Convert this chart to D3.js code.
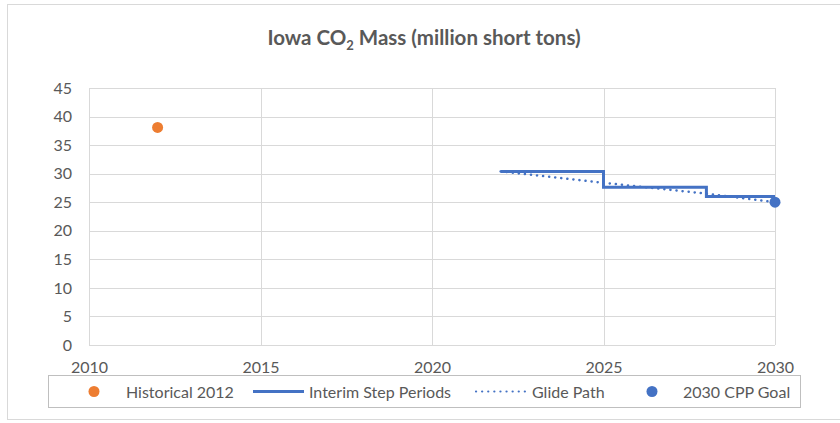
<!DOCTYPE html>
<html>
<head>
<meta charset="utf-8">
<script src="https://cdn.jsdelivr.net/npm/d3@7"></script>
<style>
  body { margin: 0; background: #fff; }
  text { font-family: Lato, "Open Sans", sans-serif; fill: #595959; }
</style>
</head>
<body>
<div id="chart"></div>
<script>
/* values */
const historical = [{ year: 2012, value: 38.1 }];
const interimSteps = [
  { year: 2022, value: 30.4 },
  { year: 2025, value: 27.6 },
  { year: 2028, value: 26.0 },
  { year: 2030, value: 26.0 }
];
const glidePath = [
  { year: 2022, value: 30.4 },
  { year: 2025, value: 28.4 },
  { year: 2028, value: 26.5 },
  { year: 2030, value: 25.0 }
];
const cppGoal = [{ year: 2030, value: 25.0 }];
const xTicks = [2010, 2015, 2020, 2025, 2030];
const yTicks = [0, 5, 10, 15, 20, 25, 30, 35, 40, 45];
const legendLabels = ["Historical 2012", "Interim Step Periods", "Glide Path", "2030 CPP Goal"];

document.addEventListener("DOMContentLoaded", function(){

  const chartWidth = 840;
  const chartHeight = 423;
  const orange = "#ED7D31";
  const blue = "#4472C4";
  const grid = "#d9d9d9";

  const svg = d3.select("#chart")
    .append("svg")
    .attr("width", chartWidth)
    .attr("height", chartHeight);

  /* outer chart border (right edge runs off the picture) */
  svg.append("rect")
    .attr("x", 7.5).attr("y", 4.5)
    .attr("width", 840).attr("height", 415)
    .attr("fill", "#fff")
    .attr("stroke", "#d9d9d9");

  const x = d3.scaleLinear().domain([2010, 2030]).range([89, 775]);
  const y = d3.scaleLinear().domain([0, 45]).range([345, 88]);

  /* gridlines */
  svg.append("g")
    .selectAll("line.h")
    .data(yTicks)
    .join("line")
    .attr("x1", x(2010)).attr("x2", x(2030))
    .attr("y1", d => Math.round(y(d)) + 0.5).attr("y2", d => Math.round(y(d)) + 0.5)
    .attr("stroke", grid);

  svg.append("g")
    .selectAll("line.v")
    .data(xTicks)
    .join("line")
    .attr("y1", y(0)).attr("y2", y(45))
    .attr("x1", d => Math.round(x(d)) + 0.5).attr("x2", d => Math.round(x(d)) + 0.5)
    .attr("stroke", grid);

  /* axes labels */
  const yAxis = d3.axisLeft(y).tickValues(yTicks).tickSize(0).tickPadding(17);
  svg.append("g")
    .attr("transform", `translate(${x(2010)},0)`)
    .call(yAxis)
    .call(g => g.select(".domain").remove())
    .call(g => g.selectAll("text").style("font-size", "16px").attr("fill", "#595959"));

  const xAxis = d3.axisBottom(x).tickValues(xTicks).tickFormat(d3.format("d")).tickSize(0).tickPadding(0);
  svg.append("g")
    .attr("transform", `translate(0,${y(0)})`)
    .call(xAxis)
    .call(g => g.select(".domain").remove())
    .call(g => g.selectAll("text").attr("dy", null).attr("y", 28)
      .style("font-size", "16px").attr("fill", "#595959"));

  /* series */
  const stepLine = d3.line()
    .x(d => x(d.year)).y(d => y(d.value))
    .curve(d3.curveStepAfter);
  svg.append("path")
    .datum(interimSteps)
    .attr("d", stepLine)
    .attr("fill", "none")
    .attr("stroke", blue)
    .attr("stroke-width", 3);

  const glide = d3.line().x(d => x(d.year)).y(d => y(d.value));
  svg.append("path")
    .datum(glidePath)
    .attr("d", glide)
    .attr("fill", "none")
    .attr("stroke", blue)
    .attr("stroke-width", 2.5)
    .attr("stroke-linecap", "round")
    .attr("stroke-dasharray", "0.1 6");

  svg.append("g")
    .selectAll("circle")
    .data(historical)
    .join("circle")
    .attr("cx", d => x(d.year)).attr("cy", d => y(d.value))
    .attr("r", 5.5).attr("fill", orange);

  svg.append("g")
    .selectAll("circle")
    .data(cppGoal)
    .join("circle")
    .attr("cx", d => x(d.year)).attr("cy", d => y(d.value))
    .attr("r", 5.5).attr("fill", blue);

  /* title */
  const title = svg.append("text")
    .attr("x", 424)
    .attr("y", 45)
    .attr("text-anchor", "middle")
    .style("font-size", "20.5px")
    .style("font-weight", "bold");
  title.append("tspan").text("Iowa CO");
  title.append("tspan").text("2").style("font-size", "13px").attr("dy", 5);
  title.append("tspan").text(" Mass (million short tons)").attr("dy", -5);

  /* legend */
  svg.append("rect")
    .attr("x", 48.5).attr("y", 375.5)
    .attr("width", 752).attr("height", 32)
    .attr("fill", "#fff")
    .attr("stroke", "#bfbfbf");

  const ly = 391.5;
  const legend = svg.append("g");
  const items = [
    { kind: "dot", color: orange, mx: 94, tx: 126 },
    { kind: "line", color: blue, mx: 253, tx: 309 },
    { kind: "dots", color: blue, mx: 476, tx: 532 },
    { kind: "dot", color: blue, mx: 652, tx: 683 }
  ];
  items.forEach((it, i) => {
    if (it.kind === "dot") {
      legend.append("circle").attr("cx", it.mx).attr("cy", ly).attr("r", 5.5).attr("fill", it.color);
    } else if (it.kind === "line") {
      legend.append("line").attr("x1", it.mx).attr("x2", it.mx + 51)
        .attr("y1", ly).attr("y2", ly).attr("stroke", it.color).attr("stroke-width", 3);
    } else {
      legend.append("line").attr("x1", it.mx).attr("x2", it.mx + 51)
        .attr("y1", ly).attr("y2", ly).attr("stroke", it.color).attr("stroke-width", 2.2)
        .attr("stroke-linecap", "round").attr("stroke-dasharray", "0.1 6");
    }
    legend.append("text")
      .attr("x", it.tx).attr("y", ly + 6)
      .style("font-size", "16px")
      .text(legendLabels[i]);
  });
});
</script>
</body>
</html>
